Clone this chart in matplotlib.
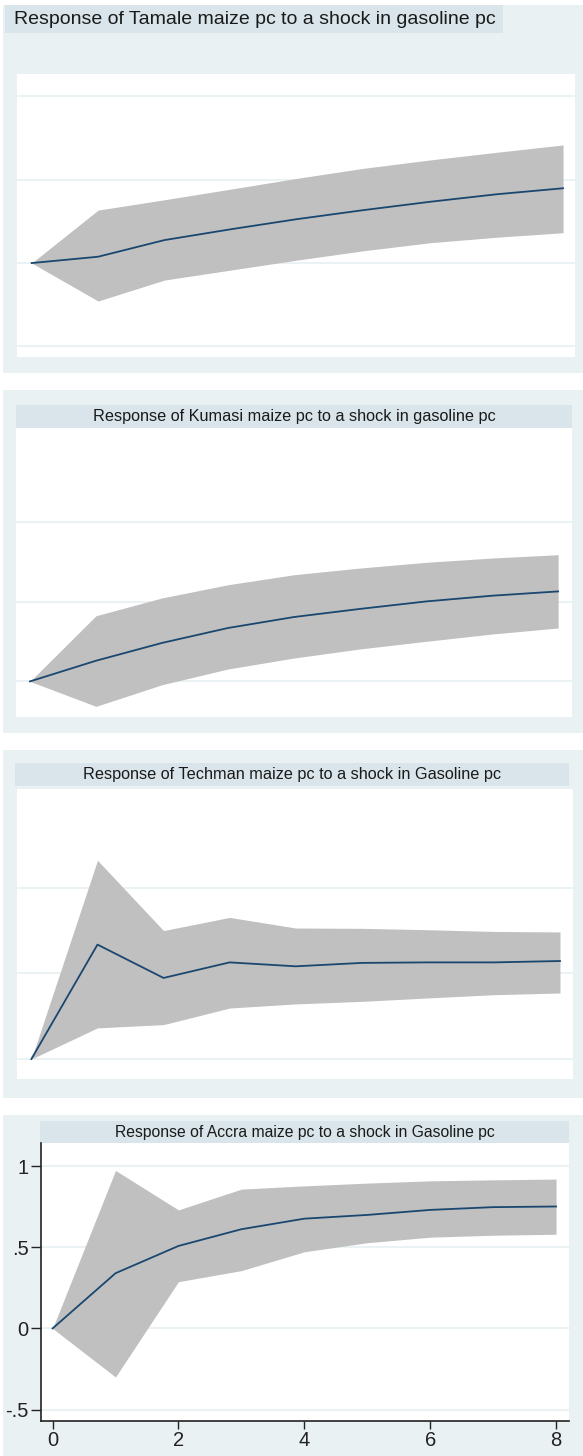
import matplotlib
matplotlib.use("Agg")
import matplotlib.pyplot as plt
import matplotlib.patches as mpatches

plt.rcParams["font.family"] = ["Liberation Sans", "DejaVu Sans"]

W, H = 583, 1456
BG = "#EAF1F3"
BAND = "#D9E5EA"
GRID = "#E8F0F2"
SHADE = "#C0C0C0"
NAVY = "#1A476F"

steps = [0, 1, 2, 3, 4, 5, 6, 7, 8]

titles = [
    "Response of Tamale maize pc to a shock in gasoline pc",
    "Response of Kumasi maize pc to a shock in gasoline pc",
    "Response of Techman maize pc to a shock in Gasoline pc",
    "Response of Accra maize pc to a shock in Gasoline pc",
]

# impulse response and confidence band per market
tamale_irf = [0, .038, .138, .203, .264, .318, .368, .413, .449]
tamale_hi = [0, .318, .380, .444, .509, .569, .619, .665, .709]
tamale_lo = [0, -.228, -.102, -.042, .018, .074, .122, .155, .182]

kumasi_irf = [0, .130, .242, .336, .405, .456, .503, .539, .566]
kumasi_hi = [0, .413, .525, .608, .671, .713, .749, .776, .797]
kumasi_lo = [0, -.157, -.021, .078, .147, .204, .252, .298, .336]

techman_irf = [0, .669, .474, .565, .542, .562, .565, .565, .573]
techman_hi = [0, 1.162, .751, .828, .766, .764, .756, .746, .743]
techman_lo = [0, .182, .201, .298, .322, .337, .357, .376, .386]

accra_irf = [0, .340, .508, .611, .676, .699, .730, .747, .751]
accra_hi = [0, .973, .730, .858, .878, .895, .909, .915, .920]
accra_lo = [0, -.299, .288, .356, .472, .528, .562, .574, .580]

grid_vals = [[-.5, 0, .5, 1], [0, .5, 1], [0, .5, 1], [-.5, 0, .5, 1]]
ytick_labels = ["-.5", "0", ".5", "1"]
xtick_vals = [0, 2, 4, 6, 8]

series = [
    (tamale_irf, tamale_lo, tamale_hi),
    (kumasi_irf, kumasi_lo, kumasi_hi),
    (techman_irf, techman_lo, techman_hi),
    (accra_irf, accra_lo, accra_hi),
]

# pixel layout: outer box, title band, plot region, limits
layout = [
    dict(outer=(3, 5, 583, 373), band=(5, 5, 503, 33), ax=(17, 74, 575, 357),
         xlim=(-0.221, 8.18), ylim=(-.564, 1.135), fs=14.0, left=True),
    dict(outer=(3, 390, 583, 733), band=(16, 405, 572, 428), ax=(16, 428, 572, 717),
         xlim=(-0.212, 8.21), ylim=(-.224, 1.594), fs=11.7, left=False),
    dict(outer=(3, 750, 583, 1098), band=(15, 763, 569, 786), ax=(17, 789, 573, 1079),
         xlim=(-0.218, 8.197), ylim=(-.117, 1.579), fs=11.7, left=False),
    dict(outer=(3, 1115, 583, 1456), band=(40, 1121, 569, 1143), ax=(41, 1143, 569, 1421),
         xlim=(-0.184, 8.206), ylim=(-.570, 1.142), fs=11.3, left=False),
]


def frac(box):
    x0, y0, x1, y1 = box
    return [x0 / W, 1 - y1 / H, (x1 - x0) / W, (y1 - y0) / H]


fig = plt.figure(figsize=(W / 100, H / 100), dpi=100)
fig.patch.set_facecolor("white")

for i, (lay, (irf, lo, hi)) in enumerate(zip(layout, series)):
    r = frac(lay["outer"])
    fig.patches.append(mpatches.Rectangle((r[0], r[1]), r[2], r[3], transform=fig.transFigure,
                                          facecolor=BG, edgecolor="none", zorder=-3))
    b = frac(lay["band"])
    fig.patches.append(mpatches.Rectangle((b[0], b[1]), b[2], b[3], transform=fig.transFigure,
                                          facecolor=BAND, edgecolor="none", zorder=-2))
    if lay["left"]:
        fig.text(b[0] + 9 / W, b[1] + b[3] / 2, titles[i], ha="left", va="center",
                 fontsize=lay["fs"], color="#1a1a1a")
    else:
        fig.text(b[0] + b[2] / 2, b[1] + b[3] / 2, titles[i], ha="center", va="center",
                 fontsize=lay["fs"], color="#1a1a1a")

    ax = fig.add_axes(frac(lay["ax"]))
    ax.set_facecolor("white")
    ax.set_axisbelow(True)
    ax.fill_between(steps, lo, hi, color=SHADE, linewidth=0, zorder=2)
    ax.plot(steps, irf, color=NAVY, linewidth=1.3, zorder=3)
    ax.set_xlim(*lay["xlim"])
    ax.set_ylim(*lay["ylim"])
    for g in grid_vals[i]:
        ax.axhline(g, color=GRID, linewidth=1.2, zorder=1)

    if i < 3:
        for s in ax.spines.values():
            s.set_visible(False)
        ax.set_xticks([])
        ax.set_yticks([])
    else:
        ax.spines["top"].set_visible(False)
        ax.spines["right"].set_visible(False)
        for side in ["left", "bottom"]:
            ax.spines[side].set_color("#222222")
            ax.spines[side].set_linewidth(1.2)
        ax.set_yticks(grid_vals[i])
        ax.set_yticklabels(ytick_labels)
        ax.set_xticks(xtick_vals)
        ax.set_xticklabels([str(v) for v in xtick_vals])
        ax.tick_params(axis="y", length=7, width=1, pad=2, labelsize=14.5, colors="#222222")
        ax.tick_params(axis="x", length=5.5, width=1, pad=2, labelsize=14.5, colors="#222222")

fig.savefig("out.png", dpi=100)
